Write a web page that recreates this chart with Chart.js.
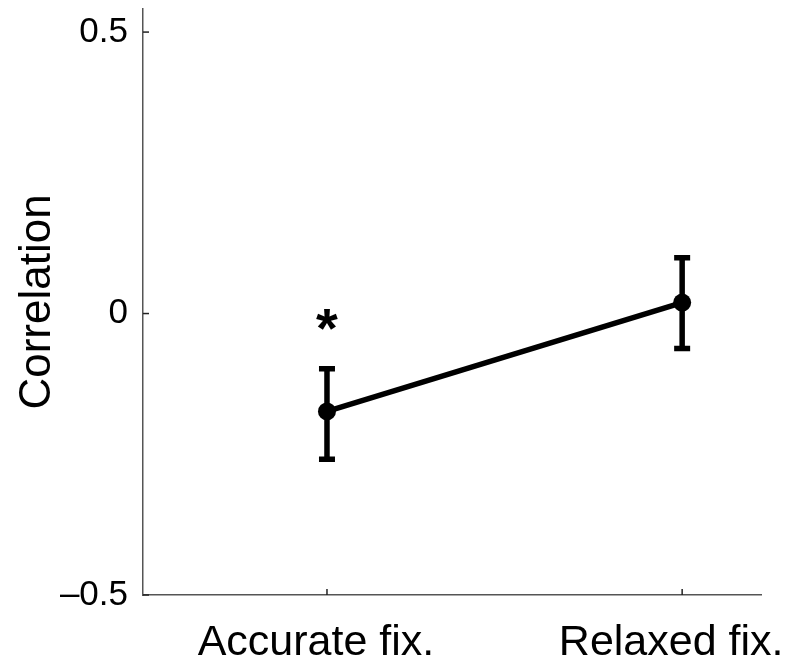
<!DOCTYPE html>
<html>
<head>
<meta charset="utf-8">
<script src="https://cdn.jsdelivr.net/npm/chart.js@4"></script>
<style>
  html, body { margin: 0; padding: 0; background: #fff; }
  #wrap { width: 793px; height: 668px; }
</style>
</head>
<body>
<div id="wrap"><canvas id="c" width="793" height="668"></canvas></div>
<script>
// ---- data ----
const categories = ['Accurate fix.', 'Relaxed fix.'];
const categoryPositions = [1, 2];
const meanValues = [-0.174, 0.0195];
const errLow = [-0.259, -0.062];
const errHigh = [-0.098, 0.099];
const yTicks = [-0.5, 0, 0.5];
const yTickLabels = ['\u20130.5', '0', '0.5'];
const significance = ['*', ''];
const asteriskValue = [-0.011, null];

const FONT = '"Liberation Sans", Arial, Helvetica, sans-serif';

const overlay = {
  id: 'overlay',
  afterDatasetsDraw(chart) {
    const ctx = chart.ctx;
    const xs = chart.scales.x, ys = chart.scales.y;
    const area = chart.chartArea;
    ctx.save();
    // inward tick marks
    ctx.strokeStyle = '#222';
    ctx.lineWidth = 1.5;
    yTicks.forEach(v => {
      const py = ys.getPixelForValue(v);
      ctx.beginPath();
      ctx.moveTo(area.left, py);
      ctx.lineTo(area.left + 6, py);
      ctx.stroke();
    });
    categoryPositions.forEach(v => {
      const px = xs.getPixelForValue(v);
      ctx.beginPath();
      ctx.moveTo(px, area.bottom);
      ctx.lineTo(px, area.bottom - 6);
      ctx.stroke();
    });
    // error bars
    ctx.strokeStyle = '#000';
    ctx.lineWidth = 5.5;
    ctx.lineCap = 'butt';
    categoryPositions.forEach((v, i) => {
      const px = xs.getPixelForValue(v);
      const pl = ys.getPixelForValue(errLow[i]);
      const ph = ys.getPixelForValue(errHigh[i]);
      ctx.beginPath();
      ctx.moveTo(px, pl); ctx.lineTo(px, ph);
      ctx.moveTo(px - 8, pl); ctx.lineTo(px + 8, pl);
      ctx.moveTo(px - 8, ph); ctx.lineTo(px + 8, ph);
      ctx.stroke();
    });
    // significance marks
    ctx.fillStyle = '#000';
    ctx.font = 'bold 56px ' + FONT;
    ctx.textAlign = 'center';
    ctx.textBaseline = 'middle';
    categoryPositions.forEach((v, i) => {
      if (!significance[i] || asteriskValue[i] === null) return;
      const px = xs.getPixelForValue(v);
      const py = ys.getPixelForValue(asteriskValue[i]);
      ctx.fillText(significance[i], px, py + 12);
    });
    ctx.restore();
  }
};

new Chart(document.getElementById('c'), {
  type: 'line',
  data: {
    datasets: [{
      data: categoryPositions.map((x, i) => ({ x: x, y: meanValues[i] })),
      borderColor: '#000',
      backgroundColor: '#000',
      borderWidth: 5.5,
      pointRadius: 9,
      pointHoverRadius: 9,
      pointBackgroundColor: '#000',
      pointBorderWidth: 0,
      tension: 0
    }]
  },
  options: {
    responsive: false,
    animation: false,
    events: [],
    layout: { padding: { top: 9, right: 32, left: 0, bottom: 0 } },
    plugins: { legend: { display: false }, tooltip: { enabled: false } },
    scales: {
      x: {
        type: 'linear',
        min: 0.482,
        max: 2.222,
        afterBuildTicks(scale) { scale.ticks = categoryPositions.map(v => ({ value: v })); },
        afterFit(scale) { scale.height = 73; scale.paddingLeft = 0; scale.paddingRight = 0; },
        grid: { display: false, drawTicks: false },
        border: { display: true, color: '#555', width: 1.5 },
        ticks: {
          color: '#000',
          font: { family: FONT, size: 43 },
          padding: 22,
          labelOffset: -11,
          maxRotation: 0,
          autoSkip: false,
          callback: (v) => { const i = categoryPositions.indexOf(v); return i >= 0 ? categories[i] : ''; }
        }
      },
      y: {
        type: 'linear',
        min: -0.5,
        max: 0.541,
        afterBuildTicks(scale) { scale.ticks = yTicks.map(v => ({ value: v })); },
        afterFit(scale) { scale.width = 143; scale.paddingTop = 0; scale.paddingBottom = 0; },
        grid: { display: false, drawTicks: false },
        border: { display: true, color: '#555', width: 1.5 },
        title: {
          display: true,
          text: 'Correlation',
          color: '#000',
          font: { family: FONT, size: 44 },
          padding: { top: 11, bottom: 0 }
        },
        ticks: {
          color: '#000',
          font: { family: FONT, size: 35 },
          padding: 15,
          callback: (v) => { const i = yTicks.indexOf(v); return i >= 0 ? yTickLabels[i] : ''; }
        }
      }
    }
  },
  plugins: [overlay]
});
</script>
</body>
</html>
